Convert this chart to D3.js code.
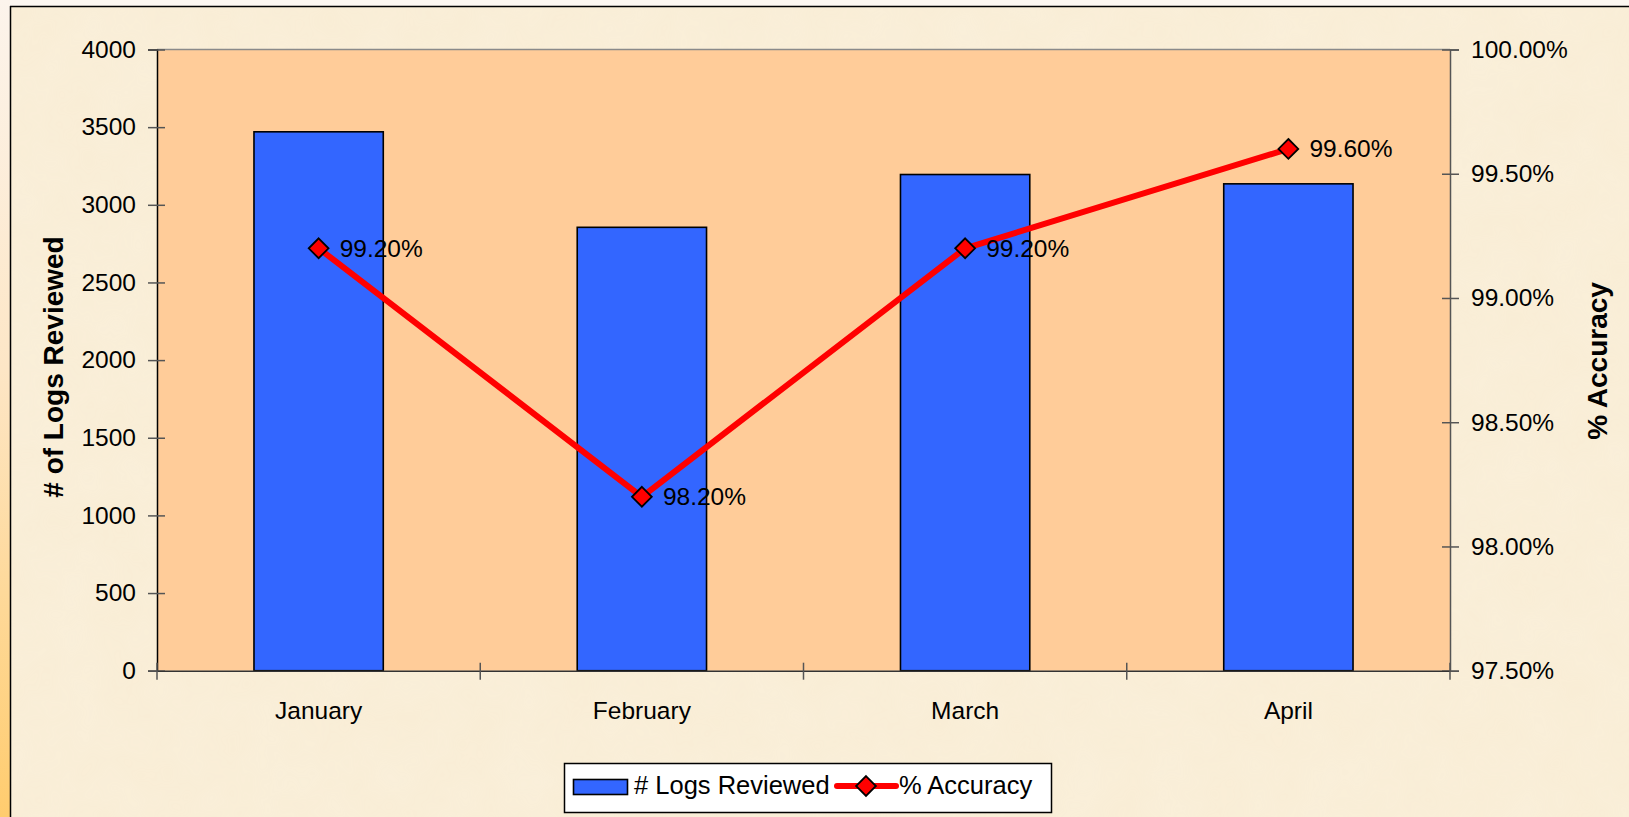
<!DOCTYPE html>
<html>
<head>
<meta charset="utf-8">
<script src="https://cdn.jsdelivr.net/npm/d3@7/dist/d3.min.js"></script>
<style>
  html, body { margin: 0; padding: 0; background: #FCF6EE; }
  svg { display: block; }
  text { font-family: Arial, "Liberation Sans", sans-serif; fill: #000; }
</style>
</head>
<body>
<svg id="chart" width="1629" height="817"></svg>
<script>
// ---- data ----
const categories = ["January", "February", "March", "April"];
const logsReviewed = [3470, 2855, 3195, 3135];
const accuracy = [0.992, 0.982, 0.992, 0.996];
const leftTicks = [0, 500, 1000, 1500, 2000, 2500, 3000, 3500, 4000];
const rightTicks = [0.975, 0.98, 0.985, 0.99, 0.995, 1.0];
const seriesNames = ["# Logs Reviewed", "% Accuracy"];
const axisTitles = ["# of Logs Reviewed", "% Accuracy"];

const svg = d3.select("#chart");
const W = 1629, H = 817;
const plot = { left: 157, right: 1450, top: 49.5, bottom: 670.7 };

// ---- background ----
const defs = svg.append("defs");
const grad = defs.append("linearGradient").attr("id", "strip").attr("x1", 0).attr("y1", 0).attr("x2", 0).attr("y2", 1);
grad.append("stop").attr("offset", "0%").attr("stop-color", "#FCF4EC");
grad.append("stop").attr("offset", "45%").attr("stop-color", "#FDE6C6");
grad.append("stop").attr("offset", "100%").attr("stop-color", "#FFCC6E");

const noise = defs.append("filter").attr("id", "paper").attr("x", 0).attr("y", 0).attr("width", "100%").attr("height", "100%");
noise.append("feTurbulence").attr("type", "fractalNoise").attr("baseFrequency", "0.02").attr("numOctaves", 3).attr("seed", 4).attr("result", "n");
noise.append("feColorMatrix").attr("in", "n").attr("type", "matrix")
  .attr("values", "0 0 0 0 1  0 0 0 0 1  0 0 0 0 1  0 0 0 0.35 0");

svg.append("rect").attr("x", 0).attr("y", 0).attr("width", W).attr("height", H).attr("fill", "#FCF7F1");
svg.append("rect").attr("x", 0).attr("y", 0).attr("width", 10).attr("height", H).attr("fill", "url(#strip)");
svg.append("rect").attr("x", 10.5).attr("y", 6.5).attr("width", W - 10).attr("height", H - 6).attr("fill", "#F9EDD5");
svg.append("rect").attr("x", 10.5).attr("y", 6.5).attr("width", W - 10).attr("height", H - 6)
  .attr("filter", "url(#paper)").attr("opacity", 0.35);
svg.append("line").attr("x1", 10.5).attr("x2", 10.5).attr("y1", 6).attr("y2", H).attr("stroke", "#000").attr("stroke-width", 1.5);
svg.append("line").attr("x1", 10).attr("x2", W).attr("y1", 6.5).attr("y2", 6.5).attr("stroke", "#000").attr("stroke-width", 1.5);

// ---- scales ----
const x = d3.scaleBand().domain(categories).range([plot.left, plot.right]).paddingInner(0.6).paddingOuter(0.3);
const xc = d3.scaleBand().domain(categories).range([plot.left, plot.right]).padding(0);
const yL = d3.scaleLinear().domain([0, 4000]).range([plot.bottom, plot.top]);
const yR = d3.scaleLinear().domain([0.975, 1.0]).range([plot.bottom, plot.top]);

// plot area
svg.append("rect").attr("x", plot.left).attr("y", plot.top)
  .attr("width", plot.right - plot.left).attr("height", plot.bottom - plot.top)
  .attr("fill", "#FFCC99");
svg.append("line").attr("x1", plot.left).attr("x2", plot.right).attr("y1", plot.top).attr("y2", plot.top)
  .attr("stroke", "#8A8A8A").attr("stroke-width", 1.5);

// ---- bars ----
svg.append("g").selectAll("rect").data(categories).join("rect")
  .attr("x", d => x(d))
  .attr("y", (d, i) => yL(logsReviewed[i]))
  .attr("width", x.bandwidth())
  .attr("height", (d, i) => yL(0) - yL(logsReviewed[i]))
  .attr("fill", "#3366FF")
  .attr("stroke", "#000").attr("stroke-width", 1.6);

// ---- axes ----
const fontSize = 24.5;
const gL = svg.append("g").attr("transform", `translate(${plot.left},0)`)
  .call(d3.axisLeft(yL).tickValues(leftTicks).tickSize(9).tickPadding(12).tickFormat(d3.format("d")));
gL.select(".domain").attr("stroke", "#000").attr("stroke-width", 1.5);
gL.selectAll(".tick line").attr("x1", 8).attr("stroke", "#555").attr("stroke-width", 1.5);
gL.selectAll(".tick text").style("font-size", fontSize + "px").attr("fill", "#000");

const gR = svg.append("g").attr("transform", `translate(${plot.right},0)`)
  .call(d3.axisRight(yR).tickValues(rightTicks).tickSize(9).tickPadding(12).tickFormat(d3.format(".2%")));
gR.select(".domain").attr("stroke", "#555").attr("stroke-width", 1.5);
gR.selectAll(".tick line").attr("x1", -8).attr("stroke", "#555").attr("stroke-width", 1.5);
gR.selectAll(".tick text").style("font-size", fontSize + "px").attr("fill", "#000");

const gB = svg.append("g").attr("transform", `translate(0,${plot.bottom})`)
  .call(d3.axisBottom(xc).tickSize(0).tickPadding(0));
gB.select(".domain").attr("stroke", "#333").attr("stroke-width", 1.5);
gB.selectAll(".tick text").style("font-size", fontSize + "px").attr("dy", null).attr("y", 48);
// category boundary ticks (crossing)
const bounds = categories.map(c => xc(c)).concat([plot.right]);
gB.selectAll(".bnd").data(bounds).join("line").attr("class", "bnd")
  .attr("x1", d => d).attr("x2", d => d).attr("y1", -8).attr("y2", 9)
  .attr("stroke", "#555").attr("stroke-width", 1.5);

// ---- line series ----
const lineGen = d3.line().x((d, i) => xc(categories[i]) + xc.bandwidth() / 2).y(d => yR(d));
svg.append("path").datum(accuracy).attr("d", lineGen)
  .attr("fill", "none").attr("stroke", "#FF0000").attr("stroke-width", 6).attr("stroke-linejoin", "round");

const diamond = d3.symbol().type(d3.symbolDiamond2).size(250);
svg.append("g").selectAll("path").data(accuracy).join("path")
  .attr("transform", (d, i) => `translate(${xc(categories[i]) + xc.bandwidth() / 2},${yR(d)})`)
  .attr("d", diamond)
  .attr("fill", "#FF0000").attr("stroke", "#000").attr("stroke-width", 1.8);

svg.append("g").selectAll("text").data(accuracy).join("text")
  .attr("x", (d, i) => xc(categories[i]) + xc.bandwidth() / 2 + 21)
  .attr("y", d => yR(d))
  .attr("dominant-baseline", "central")
  .style("font-size", fontSize + "px")
  .text(d => d3.format(".2%")(d));

// ---- axis titles ----
svg.append("text").attr("transform", `translate(63,367) rotate(-90)`)
  .attr("text-anchor", "middle").style("font-size", "28px").style("font-weight", "bold")
  .text(axisTitles[0]);
svg.append("text").attr("transform", `translate(1607,361) rotate(-90)`)
  .attr("text-anchor", "middle").style("font-size", "28px").style("font-weight", "bold")
  .text(axisTitles[1]);

// ---- legend ----
const lg = svg.append("g");
lg.append("rect").attr("x", 564.5).attr("y", 763.5).attr("width", 487).attr("height", 49)
  .attr("fill", "#fff").attr("stroke", "#000").attr("stroke-width", 1.5);
lg.append("rect").attr("x", 573.5).attr("y", 779.5).attr("width", 54).attr("height", 15)
  .attr("fill", "#3366FF").attr("stroke", "#000").attr("stroke-width", 1.6);
lg.append("text").attr("x", 634).attr("y", 784.5).attr("dominant-baseline", "central")
  .style("font-size", "25.5px").text(seriesNames[0]);
lg.append("line").attr("x1", 837).attr("x2", 896).attr("y1", 786).attr("y2", 786)
  .attr("stroke", "#FF0000").attr("stroke-width", 6).attr("stroke-linecap", "round");
lg.append("path").attr("transform", "translate(866,786)").attr("d", diamond)
  .attr("fill", "#FF0000").attr("stroke", "#000").attr("stroke-width", 1.8);
lg.append("text").attr("x", 899).attr("y", 784.5).attr("dominant-baseline", "central")
  .style("font-size", "25.5px").text(seriesNames[1]);
</script>
</body>
</html>
